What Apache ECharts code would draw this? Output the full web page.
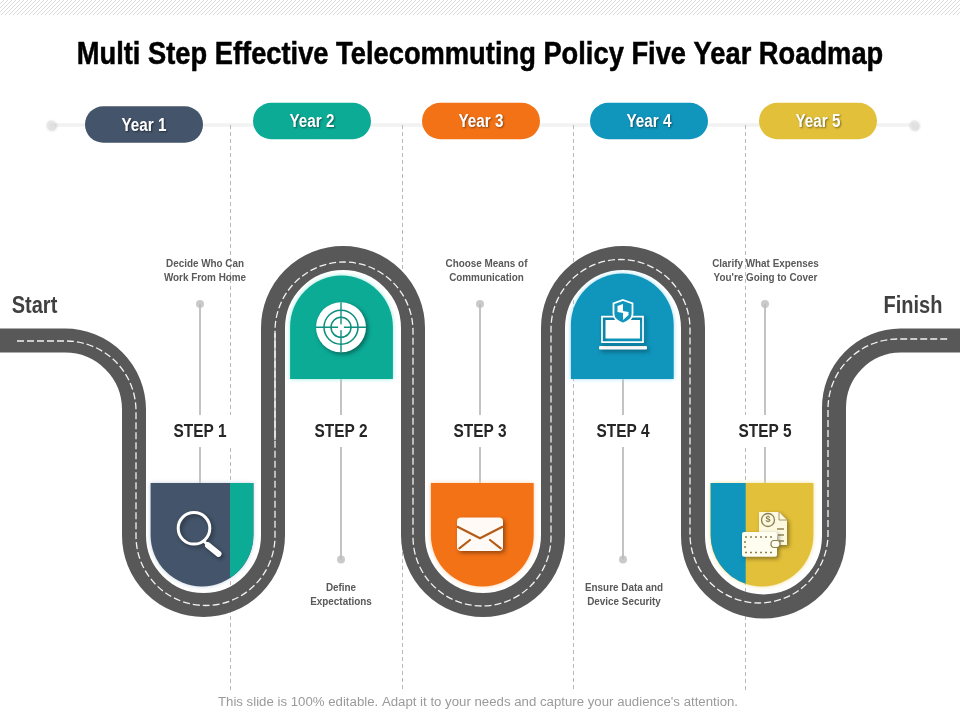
<!DOCTYPE html>
<html>
<head>
<meta charset="utf-8">
<title>Five Year Roadmap</title>
<script src="https://cdn.jsdelivr.net/npm/echarts@6/dist/echarts.min.js"></script>
<style>
  html, body { margin: 0; padding: 0; background: #fff; }
  #chart { width: 960px; height: 720px; }
</style>
</head>
<body>
<div id="chart"></div>
<script>
var SANS = '"Liberation Sans", Arial, sans-serif';

var titleText = 'Multi Step Effective Telecommuting Policy Five Year Roadmap';
var footerText = "This slide is 100% editable. Adapt it to your needs and capture your audience's attention.";

var years = ['Year 1', 'Year 2', 'Year 3', 'Year 4', 'Year 5'];
var yearX = [144, 312, 481, 649, 818];
var yearY = [124.5, 121, 121, 121, 121];
var yearTextY = [126, 122.5, 122.5, 122.5, 122.5];
var yearColors = ['#44546a', '#0cab96', '#f47216', '#1095bd', '#e3c039'];

var stepNames = ['STEP 1', 'STEP 2', 'STEP 3', 'STEP 4', 'STEP 5'];
var stepX = [200, 341, 480, 623, 765];
var stepTextY = [432, 432, 432, 432, 432];
var notes = ['Decide Who Can\nWork From Home', 'Define\nExpectations', 'Choose Means of\nCommunication',
  'Ensure Data and\nDevice Security', "Clarify What Expenses\nYou're Going to Cover"];
var noteX = [205, 341, 486.5, 624, 765.5];
var noteY = [270.5, 594.5, 270.5, 594.5, 270.5];
var dotY = [304, 559.5, 304, 559.5, 304];

var endNames = ['Start', 'Finish'];
var endX = [34.5, 913];
var endY = [307, 307];

var shieldX = [202, 341.5, 482.3, 622.3, 762];
var shieldFlatY = [483, 379, 483, 379, 483];
var shieldArcY = [535, 327, 535, 325, 535];
var shieldGlow = ['#c4d2e0', '#8fe8da', '#fbcfa8', '#9adcf0', '#efe09a'];
var accentX = [230, null, null, null, 745.7];
var accentSide = ['right', null, null, null, 'left'];
var accentColor = ['#0cab96', null, null, null, '#1095bd'];

var iconX = [194, 341, 480, 623, 765];
var iconY = [528.3, 327.3, 534.5, 325, 534];

var guideX = [230.5, 402.5, 573.5, 745.5];
var guideGapped = [true, false, false, true];

// road centre line, turn: 0 straight, 1 clockwise, -1 counter-clockwise
var roadX = [0, 65, 134, 134, 273, 273, 413, 413, 553, 553, 693, 693, 834, 834, 901, 960];
var roadY = [340.5, 340.5, 409.5, 535.5, 535.5, 328, 328, 535, 535, 328, 328, 536, 536, 408, 340.5, 340.5];
var roadTurn = [0, 0, 1, 0, -1, 0, 1, 0, -1, 0, 1, 0, -1, 0, 1, 0];

// painted lane line, does not sit exactly on the road centre
var laneX = [17, 66, 136, 136, 275, 275, 413, 413, 551, 551, 690, 690, 828, 828, 898, 948];
var laneY = [341, 341, 411, 536, 536, 331, 331, 537, 537, 329, 329, 534, 534, 409, 339, 339];
var laneTurn = roadTurn;

var chart = echarts.init(document.getElementById('chart'));

function pathFrom(xs, ys, turns, api) {
  var d = '';
  for (var i = 0; i < xs.length; i++) {
    var p = api.coord([xs[i], ys[i]]);
    if (i === 0) { d += 'M' + p[0] + ' ' + p[1]; continue; }
    if (!turns[i]) { d += ' L' + p[0] + ' ' + p[1]; continue; }
    var q = api.coord([xs[i - 1], ys[i - 1]]);
    var dx = Math.abs(p[0] - q[0]), dy = Math.abs(p[1] - q[1]);
    var r = dy < 0.01 ? dx / 2 : dx;
    d += ' A' + r + ' ' + r + ' 0 0 ' + (turns[i] > 0 ? 1 : 0) + ' ' + p[0] + ' ' + p[1];
  }
  return d;
}

function strokeSeries(z, xs, ys, turns, stroke, width, dash) {
  return {
    type: 'custom', coordinateSystem: 'cartesian2d', silent: true, clip: false, z: z,
    data: [[xs[0], ys[0]]],
    renderItem: function (params, api) {
      return {
        type: 'path',
        shape: { pathData: pathFrom(xs, ys, turns, api) },
        style: { fill: 'none', stroke: stroke, lineWidth: width, lineDash: dash || null }
      };
    }
  };
}

// labels go through custom text so they can be squeezed to a narrow face
function textSeries(z, texts, xs, ys, font, fill, squeeze, extra) {
  return {
    type: 'custom', coordinateSystem: 'cartesian2d', silent: true, clip: false, z: z,
    data: xs.map(function (x, i) { return [x, ys[i]]; }),
    renderItem: function (params, api) {
      var p = api.coord([api.value(0), api.value(1)]);
      return {
        type: 'text', x: p[0], y: p[1], scaleX: squeeze,
        style: Object.assign({ text: texts[params.dataIndex], x: 0, y: 0, fill: fill, font: font,
          align: 'center', verticalAlign: 'middle' }, extra || {})
      };
    }
  };
}

function hatchPattern() {
  var c = document.createElement('canvas');
  c.width = 4; c.height = 4;
  var g = c.getContext('2d');
  g.strokeStyle = '#dcdcdc';
  g.lineWidth = 1;
  g.beginPath();
  g.moveTo(-1, 1); g.lineTo(1, -1);
  g.moveTo(0, 4); g.lineTo(4, 0);
  g.moveTo(3, 5); g.lineTo(5, 3);
  g.stroke();
  return { image: c, repeat: 'repeat' };
}

function shieldPaths(i, api) {
  var cx = api.coord([shieldX[i], 0])[0];
  var flat = api.coord([0, shieldFlatY[i]])[1];
  var arc = api.coord([0, shieldArcY[i]])[1];
  var r = api.size([51.4, 0])[0];
  var sweep = flat < arc ? 1 : 0;
  var l = cx - r, R = cx + r;
  var full = 'M' + l + ' ' + flat + ' L' + R + ' ' + flat + ' L' + R + ' ' + arc +
    ' A' + r + ' ' + r + ' 0 0 ' + sweep + ' ' + l + ' ' + arc + ' Z';
  var accent = null;
  if (accentX[i] != null) {
    var sx = api.coord([accentX[i], 0])[0];
    var sy = arc + Math.sqrt(r * r - (sx - cx) * (sx - cx));
    if (accentSide[i] === 'right') {
      accent = 'M' + sx + ' ' + flat + ' L' + R + ' ' + flat + ' L' + R + ' ' + arc +
        ' A' + r + ' ' + r + ' 0 0 1 ' + sx + ' ' + sy + ' Z';
    } else {
      accent = 'M' + l + ' ' + flat + ' L' + sx + ' ' + flat + ' L' + sx + ' ' + sy +
        ' A' + r + ' ' + r + ' 0 0 1 ' + l + ' ' + arc + ' Z';
    }
  }
  return { full: full, accent: accent };
}

var drop = { shadowBlur: 4, shadowColor: 'rgba(0,0,0,0.4)', shadowOffsetX: 2, shadowOffsetY: 2 };

function stroked(x1, y1, x2, y2, color, width, cap) {
  return { type: 'line', shape: { x1: x1, y1: y1, x2: x2, y2: y2 },
    style: { stroke: color, lineWidth: width, lineCap: cap || 'butt' } };
}
function ring(x, y, r, color, width, fill) {
  return { type: 'circle', shape: { cx: x, cy: y, r: r },
    style: { fill: fill || 'none', stroke: color, lineWidth: width } };
}

// icons are small pictures, drawn around their point
var iconParts = [
  function () {
    return [
      { type: 'circle', shape: { cx: 0, cy: 0, r: 15.8 },
        style: Object.assign({ fill: 'none', stroke: '#fff', lineWidth: 3 }, drop) },
      stroked(9, 12, 15, 18, '#fff', 3),
      { type: 'line', shape: { x1: 14, y1: 17, x2: 24.5, y2: 25.5 },
        style: Object.assign({ stroke: '#fff', lineWidth: 6, lineCap: 'round' }, drop) }
    ];
  },
  function () {
    var c = '#0f8f7e';
    return [
      { type: 'circle', shape: { cx: 0, cy: 0, r: 25 }, style: Object.assign({ fill: '#fff' }, drop) },
      ring(0, 0, 10, c, 1.5), ring(0, 0, 17, c, 1.5),
      stroked(-25, 0, 25, 0, c, 1.4), stroked(0, -25, 0, 25, c, 1.4),
      { type: 'circle', shape: { cx: 0, cy: 0, r: 3 }, style: { fill: '#fff' } }
    ];
  },
  function () {
    var c = '#b65a17';
    return [
      { type: 'rect', shape: { x: -23, y: -17, width: 46, height: 33.5, r: 4 },
        style: Object.assign({ fill: '#fffaf5' }, drop) },
      { type: 'polyline', shape: { points: [[-23, -8], [0, 3.8], [23, -8]] },
        style: { fill: 'none', stroke: c, lineWidth: 2.2 } },
      stroked(-20.7, 13.8, -10, 5.5, c, 2.2, 'round'), stroked(20.7, 13.8, 10, 5.5, c, 2.2, 'round')
    ];
  },
  function () {
    var c = '#1095bd';
    return [
      { type: 'rect', shape: { x: -24, y: 21, width: 48, height: 3.4, r: 1 },
        style: Object.assign({ fill: '#fff' }, drop) },
      { type: 'rect', shape: { x: -21, y: -8.3, width: 41, height: 25.5 },
        style: Object.assign({ fill: 'none', stroke: '#fff', lineWidth: 1.7 }, drop) },
      { type: 'rect', shape: { x: -17.5, y: -5, width: 34.5, height: 18.5 }, style: { fill: '#fff' } },
      { type: 'path', shape: { pathData: 'M0 -25 L9.5 -21.5 L9.5 -11 Q9.5 -5 0 -1.5 Q-9.5 -5 -9.5 -11 L-9.5 -21.5 Z' },
        style: { fill: c, stroke: '#fff', lineWidth: 1.8 } },
      { type: 'path', shape: { pathData: 'M-5.5 -19 L0 -21 L0 -14 L5.5 -13 L5.5 -10 L0 -5 L0 -12 L-5.5 -13 Z' },
        style: { fill: '#fff' } }
    ];
  },
  function () {
    var c = '#8a7f4e';
    return [
      { type: 'path', shape: { pathData: 'M-6 -22 L14 -22 L22 -14 L22 11 L-6 11 Z' },
        style: Object.assign({ fill: '#fdf8e0' }, drop) },
      stroked(14, -22, 14, -14, c, 0.8), stroked(14, -14, 22, -14, c, 0.8),
      ring(3, -14, 6.5, c, 1.3),
      { type: 'text', style: { text: '$', x: 3, y: -14, fill: c, align: 'center', verticalAlign: 'middle',
        font: 'bold 9px ' + SANS } },
      stroked(12, -5, 19, -5, c, 1.4), stroked(13, 1, 19, 1, c, 1.4), stroked(14, 7, 19, 7, c, 1.4),
      { type: 'rect', shape: { x: -23, y: -2, width: 35, height: 24.7, r: 2 },
        style: Object.assign({ fill: '#fffdf0' }, drop) },
      { type: 'line', shape: { x1: -20, y1: 3, x2: 8, y2: 3 }, style: { stroke: c, lineWidth: 1.5, lineDash: [2, 3] } },
      { type: 'line', shape: { x1: -20, y1: 18.5, x2: 8, y2: 18.5 }, style: { stroke: c, lineWidth: 1.5, lineDash: [2, 3] } },
      { type: 'line', shape: { x1: -20, y1: 7, x2: -20, y2: 15 }, style: { stroke: c, lineWidth: 1.5, lineDash: [2, 3] } },
      { type: 'rect', shape: { x: 6, y: 6.5, width: 9, height: 7, r: 3 }, style: { fill: '#fffdf0', stroke: c, lineWidth: 1.2 } }
    ];
  }
];

var guideData = [];
guideX.forEach(function (x, i) {
  if (guideGapped[i]) {
    guideData.push([x, 125], [x, 415], [null, null], [x, 448], [x, 690], [null, null]);
  } else {
    guideData.push([x, 125], [x, 690], [null, null]);
  }
});

var connectorData = [];
stepX.forEach(function (x, i) {
  connectorData.push([x, Math.min(dotY[i], shieldFlatY[i])], [x, 415], [null, null],
    [x, 447], [x, Math.max(dotY[i], shieldFlatY[i])], [null, null]);
});

chart.setOption({
  animation: false,
  backgroundColor: '#fff',
  grid: { left: 0, right: 0, top: 0, bottom: 0 },
  xAxis: { type: 'value', min: 0, max: 960, show: false },
  yAxis: { type: 'value', min: 0, max: 720, inverse: true, show: false },
  series: [
    // hatch band along the top
    {
      type: 'custom', silent: true, coordinateSystem: 'cartesian2d', clip: false, z: 1, data: [[0, 0]],
      renderItem: function (params, api) {
        var p = api.coord([0, 0]), q = api.coord([960, 15]);
        return { type: 'rect', shape: { x: p[0], y: p[1], width: q[0] - p[0], height: q[1] - p[1] },
          style: { fill: hatchPattern() } };
      }
    },
    // timeline behind the pills
    {
      type: 'line', silent: true, symbol: 'none', z: 2, data: [[51, 125], [914, 125]],
      lineStyle: { color: '#f2f2f2', width: 3.5 }
    },
    {
      type: 'scatter', silent: true, symbolSize: 9, z: 3, data: [[51, 125], [914, 125]],
      itemStyle: { color: '#e6e6e6', shadowBlur: 3, shadowColor: 'rgba(0,0,0,0.25)', shadowOffsetX: 1, shadowOffsetY: 1 }
    },
    // dashed column guides
    {
      type: 'line', silent: true, symbol: 'none', z: 4, data: guideData, connectNulls: false,
      lineStyle: { color: '#b9b9b9', width: 1, type: [4, 3] }
    },
    strokeSeries(5, roadX, roadY, roadTurn, '#585858', 24),
    strokeSeries(6, laneX, laneY, laneTurn, '#f2f2f2', 1.3, [7, 3]),
    {
      type: 'line', silent: true, symbol: 'none', z: 7, data: [[275, 333], [275, 440]],
      lineStyle: { color: '#f6f6f6', width: 1.3 }
    },
    // connectors and end dots
    {
      type: 'line', silent: true, symbol: 'none', z: 8, data: connectorData, connectNulls: false,
      lineStyle: { color: '#bdbdbd', width: 1.8 }
    },
    {
      type: 'scatter', silent: true, symbolSize: 8, z: 9,
      data: stepX.map(function (x, i) { return [x, dotY[i]]; }),
      itemStyle: { color: '#bdbdbd' }
    },
    // shields
    {
      type: 'custom', silent: true, coordinateSystem: 'cartesian2d', clip: false, z: 10,
      data: shieldX.map(function (x, i) { return [x, shieldFlatY[i]]; }),
      renderItem: function (params, api) {
        var i = params.dataIndex;
        var d = shieldPaths(i, api);
        var children = [{
          type: 'path', shape: { pathData: d.full },
          style: { fill: yearColors[i], shadowBlur: 4, shadowColor: shieldGlow[i] }
        }];
        if (d.accent) {
          children.push({ type: 'path', shape: { pathData: d.accent }, style: { fill: accentColor[i] } });
        }
        return { type: 'group', children: children };
      }
    },
    // icons
    {
      type: 'custom', silent: true, coordinateSystem: 'cartesian2d', clip: false, z: 11,
      data: iconX.map(function (x, i) { return [x, iconY[i]]; }),
      renderItem: function (params, api) {
        var p = api.coord([api.value(0), api.value(1)]);
        return { type: 'group', x: p[0], y: p[1], children: iconParts[params.dataIndex]() };
      }
    },
    // year pills
    {
      type: 'custom', silent: true, coordinateSystem: 'cartesian2d', clip: false, z: 12,
      data: yearX.map(function (x, i) { return [x, yearY[i]]; }),
      renderItem: function (params, api) {
        var i = params.dataIndex;
        var p = api.coord([api.value(0), api.value(1)]);
        var size = api.size([118, 36.5]);
        return { type: 'rect', shape: { x: p[0] - size[0] / 2, y: p[1] - size[1] / 2, width: size[0], height: size[1], r: size[1] / 2 },
          style: { fill: yearColors[i] } };
      }
    },
    textSeries(13, years, yearX, yearTextY, 'bold 18px ' + SANS, '#fff', 0.85,
      { textShadowColor: 'rgba(0,0,0,0.45)', textShadowBlur: 2, textShadowOffsetX: 1, textShadowOffsetY: 1 }),
    textSeries(13, [titleText], [480], [55.5], 'bold 30.5px ' + SANS, '#000', 0.895, { stroke: '#000', lineWidth: 0.5 }),
    textSeries(13, stepNames, stepX, stepTextY, 'bold 18px ' + SANS, '#262626', 0.855),
    textSeries(13, notes, noteX, noteY, 'bold 11.5px ' + SANS, '#595959', 0.86, { lineHeight: 14 }),
    textSeries(13, endNames, endX, endY, 'bold 23px ' + SANS, '#404040', 0.87),
    textSeries(13, [footerText], [478], [703], '12.5px ' + SANS, '#9a9a9a', 1.058)
  ]
});
</script>
</body>
</html>
